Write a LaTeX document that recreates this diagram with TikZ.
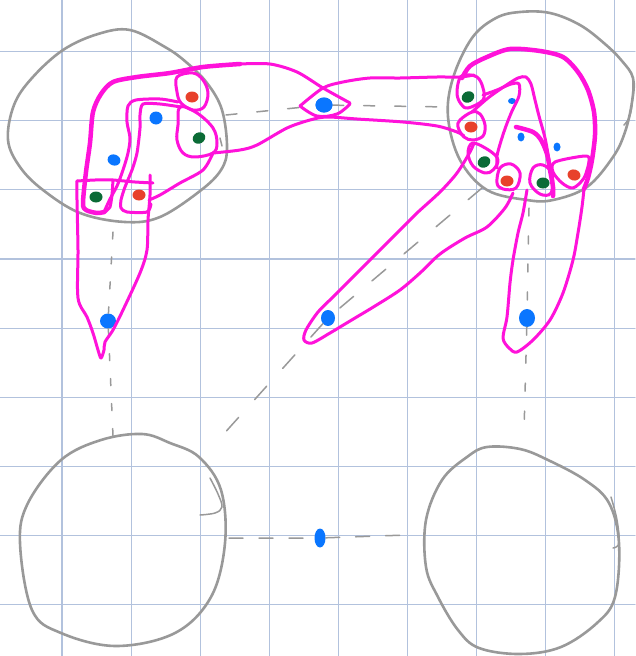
\documentclass[tikz,border=0pt]{standalone}
\usetikzlibrary{shapes.geometric}
\definecolor{gridc}{HTML}{B2C2DD}
\definecolor{blobc}{HTML}{999999}
\definecolor{magc}{HTML}{FF12DA}
\definecolor{bluec}{HTML}{0A76FF}
\definecolor{redc}{HTML}{E8412B}
\definecolor{greenc}{HTML}{0B6B36}
\begin{document}
\begin{tikzpicture}[x=1pt,y=-1pt,line cap=round,line join=round,
  gridline/.style={draw=gridc,line width=1.1pt},
  blob/.style={draw=blobc,line width=2.6pt},
  tick/.style={draw=blobc,line width=1.5pt},
  link/.style={draw=blobc,line width=1.5pt,dash pattern=on 11pt off 20pt},
  hyp/.style={draw=magc,line width=3pt},
  hypthick/.style={draw=magc,line width=4.5pt},
  dot/.style={ellipse,inner sep=0pt,draw=none},
  bdot/.style={dot,fill=bluec},
  rdot/.style={dot,fill=redc,minimum width=13pt,minimum height=11pt},
  gdot/.style={dot,fill=greenc,minimum width=13pt,minimum height=11pt,rotate=30}]
\useasboundingbox (0,0) rectangle (635,656);
\fill[white] (0,0) rectangle (635,656);
% grid
\foreach \k in {0,...,8}{
  \draw[gridline] ({62+69.1*\k},0) -- ({62+69.1*\k},656);
  \draw[gridline] (0,{51.7+69.1*\k}) -- (635,{51.7+69.1*\k});
}
% blobs
\draw[blob] plot[smooth cycle,tension=0.6] coordinates {(8,140) (14,105) (32,78) (63,50) (98,34) (130,30) (165,47) (186,62) (207,83) (222,110) (227,148) (221,170) (200,191) (160,217) (125,222) (80,213) (43,190) (20,167)};
\draw[blob] plot[smooth cycle,tension=0.6] coordinates {(448,117) (453,78) (472,38) (496,18) (520,12) (550,13) (580,25) (605,44) (622,61) (633,78) (632,102) (625,132) (613,157) (587,187) (553,200) (527,200) (487,190) (460,160)};
\draw[blob] plot[smooth cycle,tension=0.6] coordinates {(20,543) (28,503) (61,460) (101,440) (142,434) (170,443) (199,457) (221,490) (225,543) (211,597) (175,633) (116,646) (61,633) (32,610)};
\draw[blob] plot[smooth cycle,tension=0.6] coordinates {(426,520) (442,480) (467,457) (487,447) (520,449) (548,460) (585,480) (609,503) (619,543) (615,597) (597,623) (561,647) (520,654) (479,648) (458,630) (438,597) (426,567)};
% small strokes
\draw[tick] plot[smooth,tension=0.6] coordinates {(210,478) (218,494) (222,507) (215,513) (200,515)};
\draw[tick] plot[smooth,tension=0.6] coordinates {(611,497) (617,520) (619,543) (613,548)};
\draw[tick] plot[smooth,tension=0.6] coordinates {(633,82) (632,105) (629,118) (624,125)};
\draw[tick] (220,138) -- (222,146);
% dots (named)
\node[bdot,minimum width=17pt,minimum height=15pt] (cen) at (324,105) {};
\node[bdot,minimum width=13pt,minimum height=13pt] (bl1) at (156,118) {};
\node[bdot,minimum width=13pt,minimum height=11pt,rotate=-20] (bl2) at (114,160) {};
\node[bdot,minimum width=16pt,minimum height=15pt] (btail) at (108,321) {};
\node[bdot,minimum width=14pt,minimum height=16pt] (bdiag) at (328,318) {};
\node[bdot,minimum width=16pt,minimum height=18pt] (brv) at (527,318) {};
\node[bdot,minimum width=11pt,minimum height=19pt] (bbot) at (320,538) {};
\node[bdot,minimum width=8pt,minimum height=6pt] (br1) at (512,101) {};
\node[bdot,minimum width=7pt,minimum height=9pt] (br2) at (521,137) {};
\node[bdot,minimum width=7pt,minimum height=9pt] (br3) at (557,147) {};
% dashed links
\coordinate (tlE) at (226,115);
\coordinate (trW) at (448,107);
\coordinate (tlS) at (113,232);
\coordinate (blN) at (113,436);
\coordinate (trS) at (529,208);
\coordinate (brN) at (524,432);
\coordinate (blE) at (229,538);
\coordinate (brW) at (407,535);
\coordinate (trSW) at (482,188);
\coordinate (blNE) at (212,447);
\draw[link] (tlE) -- (cen) -- (trW);
\draw[link,dash pattern=on 7pt off 18pt] (tlS) -- (btail) -- (blN);
\draw[link,dash pattern=on 8pt off 20pt] (trS) -- (brv) -- (brN);
\draw[link,dash pattern=on 14pt off 16pt] (blE) -- (bbot) -- (brW);
\draw[link,dash pattern=on 18pt off 24pt] (trSW) -- (bdiag) -- (blNE);
% ---------- magenta, left group ----------
\draw[hypthick] plot[smooth,tension=0.5] coordinates {(240,64) (203,67) (170,73) (137,77) (113,82) (101,94) (93,112) (90,143) (86,172) (83,203) (86,210) (97,213) (104,212)};
\draw[hyp] plot[smooth,tension=0.5] coordinates {(350,103) (323,88) (297,72) (270,64) (240,64)};
\draw[hyp] plot[smooth,tension=0.5] coordinates {(104,212) (110,199) (117,186) (123,170) (128,153) (130,138) (127,122) (128,106) (136,100) (160,99) (178,102)};
\draw[hyp] plot[smooth,tension=0.45] coordinates {(181,107) (160,104) (143,104) (140,115) (140,128) (137,153) (132,170) (125,187) (121,200) (121,208) (127,212) (147,212) (151,204)};
\draw[hyp] plot[smooth,tension=0.5] coordinates {(213,153) (203,170) (180,183) (160,195) (149,200)};
\draw[hyp] plot[smooth cycle,tension=0.6] coordinates {(180,107) (178,125) (177,140) (183,153) (195,157) (213,153) (217,143) (213,128) (197,113)};
\draw[hyp] plot[smooth cycle,tension=0.6] coordinates {(177,77) (177,92) (181,103) (193,110) (204,107) (208,93) (203,80) (193,73)};
\draw[hyp] plot[smooth,tension=0.3] coordinates {(104,213) (110,207) (112,195) (113,180)};
\draw[hyp] plot[smooth,tension=0.3] coordinates {(77,181) (95,180) (113,180) (135,182) (153,183)};
\draw[hyp] plot[smooth,tension=0.5] coordinates {(77,181) (77,200) (78,250) (78,298) (87,317) (93,333) (98,350) (101,358) (104,350) (105,342) (113,330) (123,310) (140,273) (147,250) (148,220) (150,195) (150,175)};
% ---------- magenta, middle band ----------
\draw[hyp] plot[smooth,tension=0.5] coordinates {(300,106) (323,88) (343,82) (370,78) (400,78) (437,77) (460,77) (474,75)};
\draw[hyp] plot[smooth,tension=0.6] coordinates {(300,106) (317,116) (337,114) (350,104)};
\draw[hyp] plot[smooth,tension=0.5] coordinates {(213,153) (240,150) (257,145) (287,128) (310,120) (327,117) (357,119) (403,122) (437,126) (457,132) (464,136)};
% ---------- magenta, right group ----------
\draw[hyp] plot[smooth cycle,tension=0.6] coordinates {(459,80) (457,94) (461,104) (468,108) (483,100) (483,88) (477,77) (464,75)};
\draw[hyp] plot[smooth cycle,tension=0.6] coordinates {(460,120) (458,127) (464,137) (473,140) (483,136) (485,125) (480,114) (472,112)};
\draw[hyp] plot[smooth cycle,tension=0.6] coordinates {(473,143) (468,153) (473,166) (485,173) (493,170) (498,160) (490,151)};
\draw[hyp] plot[smooth cycle,tension=0.6] coordinates {(500,168) (497,183) (503,189) (516,188) (520,173) (511,164)};
\draw[hyp] plot[smooth cycle,tension=0.6] coordinates {(533,168) (530,183) (540,194) (551,193) (552,174) (543,165)};
\draw[hyp] plot[smooth cycle,tension=0.5] coordinates {(555,162) (585,156) (589,161) (584,178) (573,188) (562,183) (553,172)};
\draw[hypthick] plot[smooth,tension=0.5] coordinates {(462,78) (470,66) (487,57) (510,49) (540,51) (563,57) (578,72) (588,90) (594,112) (595,135) (592,160) (588,178) (584,189)};
\draw[hypthick] plot[smooth,tension=0.5] coordinates {(516,127) (533,132) (541,140) (547,154) (550,170) (553,187) (553,196)};
\draw[hyp] plot[smooth,tension=0.5] coordinates {(472,112) (488,98) (505,86) (518,78) (526,77) (531,84) (535,100) (539,116) (545,138) (549,160) (552,180)};
\draw[hyp] plot[smooth,tension=0.5] coordinates {(483,95) (497,90) (511,84) (519,84) (519,96) (512,111) (506,126) (501,141) (497,156) (497,168)};
\draw[hyp] plot[smooth,tension=0.5] coordinates {(474,143) (470,152) (457,173) (440,192) (417,213) (400,230) (377,253) (355,275) (333,297) (318,312) (306,330) (304,340) (312,343) (330,333) (350,321) (375,306) (400,290) (420,273) (440,254) (465,238) (487,227) (505,208) (513,193)};
\draw[hyp] plot[smooth,tension=0.5] coordinates {(527,190) (523,213) (518,233) (513,260) (510,283) (507,317) (503,338) (509,348) (517,352) (533,340) (550,320) (563,293) (573,260) (578,233) (582,207) (584,189)};
% red and green dots
\node[rdot] (r1) at (192,97) {};
\node[rdot] (r2) at (139,195) {};
\node[rdot] (r3) at (471,127) {};
\node[rdot] (r4) at (507,181) {};
\node[rdot,rotate=-15] (r5) at (574,175) {};
\node[gdot] (g1) at (199,138) {};
\node[gdot,rotate=-30] (g2) at (96,197) {};
\node[gdot] (g3) at (468,97) {};
\node[gdot] (g4) at (484,162) {};
\node[gdot,rotate=-30] (g5) at (543,183) {};
% central blue redrawn on top
\node[bdot,minimum width=17pt,minimum height=15pt] at (cen) {};
\end{tikzpicture}
\end{document}
